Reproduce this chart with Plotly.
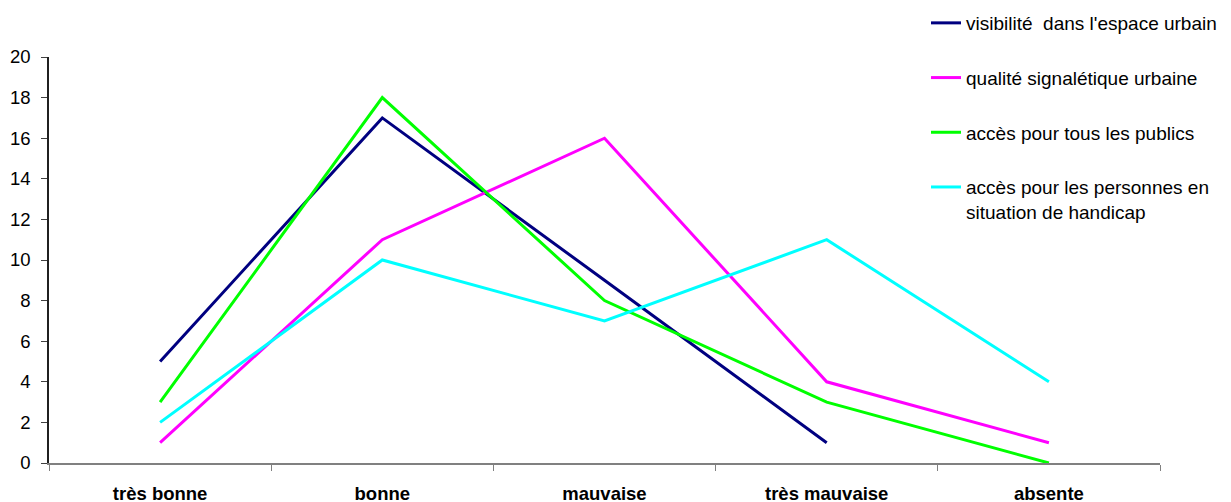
import plotly.graph_objects as go

categories = ['très bonne', 'bonne', 'mauvaise', 'très mauvaise', 'absente']
visibilite = [5, 17, 9, 1, None]
qualite = [1, 11, 16, 4, 1]
acces_tous = [3, 18, 8, 3, 0]
acces_handicap = [2, 10, 7, 11, 4]

series = [
    ("visibilité  dans l'espace urbain", visibilite, '#000080'),
    ('qualité signalétique urbaine', qualite, '#FF00FF'),
    ('accès pour tous les publics', acces_tous, '#00FF00'),
    ('accès pour les personnes en<br>situation de handicap', acces_handicap, '#00FFFF'),
]

fig = go.Figure()
for i, (name, vals, color) in enumerate(series):
    fig.add_trace(go.Scatter(
        x=categories,
        y=vals,
        name=name,
        mode='lines',
        legendgroup=str(i),
        line=dict(color=color, width=3),
    ))

# page body adds an 8px offset, margins compensate for it
fig.update_layout(
    width=1231,
    height=502,
    margin=dict(l=41, r=79, t=49, b=47, autoexpand=False),
    plot_bgcolor='white',
    paper_bgcolor='white',
    font=dict(family='Liberation Sans, Arial, sans-serif', size=19, color='black'),
    legend=dict(
        x=0.7894,
        y=1.1305,
        xanchor='left',
        yanchor='top',
        tracegroupgap=27,
        valign='top',
        font=dict(size=19),
        bgcolor='rgba(0,0,0,0)',
    ),
    xaxis=dict(
        type='category',
        range=[-0.5, 4.5],
        tickson='boundaries',
        ticks='outside',
        ticklen=6,
        tickcolor='#808080',
        showline=True,
        linecolor='#808080',
        linewidth=1.5,
        showgrid=False,
        zeroline=False,
        automargin=False,
        tickfont=dict(size=18.5, family='Liberation Sans, Arial, sans-serif', weight='bold'),
        ticklabelstandoff=13,
    ),
    yaxis=dict(
        range=[0, 20],
        dtick=2,
        ticks='outside',
        ticklen=6,
        tickcolor='#404040',
        showline=True,
        linecolor='#202020',
        linewidth=1.5,
        showgrid=False,
        zeroline=False,
        automargin=False,
        tickfont=dict(size=18.5),
        ticklabelstandoff=7,
    ),
)

fig.write_html('out.html')
